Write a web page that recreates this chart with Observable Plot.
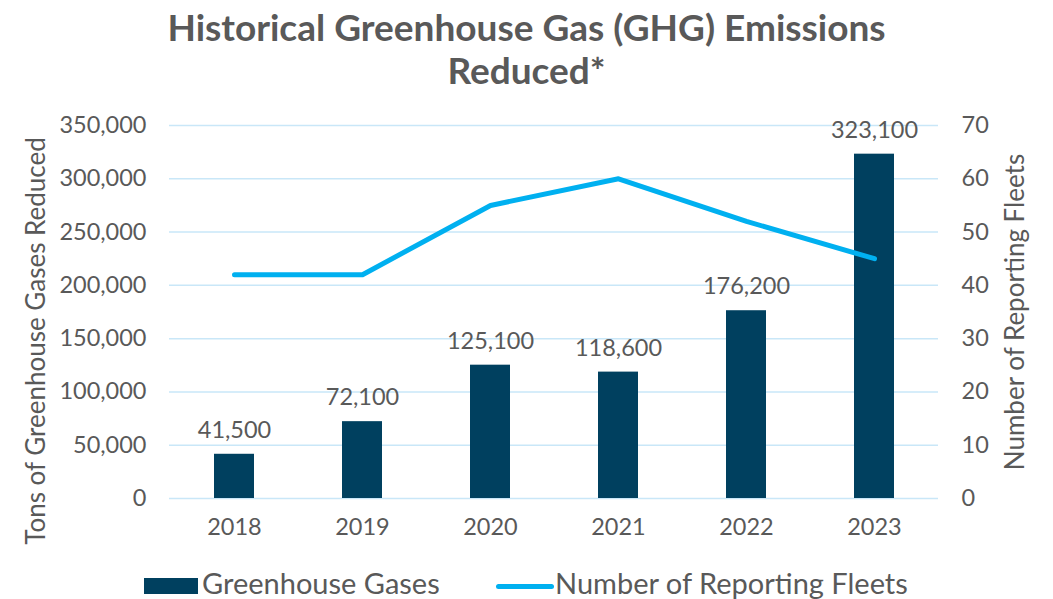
<!DOCTYPE html>
<html>
<head>
<meta charset="utf-8">
<script src="https://cdn.jsdelivr.net/npm/d3@7"></script>
<script src="https://cdn.jsdelivr.net/npm/@observablehq/plot@0.6"></script>
<style>
  html, body { margin: 0; padding: 0; background: #fff; }
  body { position: relative; width: 1053px; height: 599px; overflow: hidden; font-family: Lato, "Noto Sans", sans-serif; color: #595959; }
  #title { height: 110px; text-align: center; font-weight: bold; font-size: 37px; line-height: 43px; padding-top: 5px; box-sizing: border-box; color: #595959; }
  #chart { height: 440px; }
  .abs { position: absolute; white-space: nowrap; color: #595959; }
  .lg { font-size: 29px; line-height: 34px; top: 566px; }
  .rot { font-size: 26px; line-height: 30px; transform: translate(-50%, -50%) rotate(-90deg); }
</style>
</head>
<body>
<div id="title">Historical Greenhouse Gas (GHG) Emissions<br>Reduced*</div>
<div id="chart"></div>
<div class="abs rot" style="left:35px; top:341px;">Tons of Greenhouse Gases Reduced</div>
<div class="abs rot" style="left:1014px; top:312px;">Number of Reporting Fleets</div>
<div class="abs" style="left:144px; top:578px; width:54px; height:16px; background:#00405f;"></div>
<div class="abs lg" style="left:202px;">Greenhouse Gases</div>
<div class="abs" style="left:496px; top:584px; width:58px; height:5px; border-radius:3px; background:#00b0f0;"></div>
<div class="abs lg" style="left:555px;">Number of Reporting Fleets</div>
<script>
const years = ["2018", "2019", "2020", "2021", "2022", "2023"];
const ghgTons = [41500, 72100, 125100, 118600, 176200, 323100];
const fleets = [42, 42, 55, 60, 52, 45];
const leftTicks = [0, 50000, 100000, 150000, 200000, 250000, 300000, 350000];
const rightTicks = [0, 10, 20, 30, 40, 50, 60, 70];

const ratio = 350000 / 70;
const data = years.map((y, i) => ({ year: y, ghg: ghgTons[i], fleets: fleets[i], fleetsScaled: fleets[i] * ratio }));
const textColor = "#595959";
const font = "Lato, 'Noto Sans', sans-serif";

const chart = Plot.plot({
  width: 1053,
  height: 440,
  marginTop: 15,
  marginBottom: 52,
  marginLeft: 169,
  marginRight: 115,
  style: { fontFamily: font, fontSize: "23.5px", color: textColor, background: "transparent" },
  x: { domain: years, paddingInner: 0.69, paddingOuter: 0.345, label: null },
  y: { domain: [0, 350000], label: null },
  marks: [
    Plot.gridY(leftTicks, { stroke: "#c9e7f8", strokeOpacity: 1, strokeWidth: 1.5 }),
    Plot.barY(data, { x: "year", y: "ghg", fill: "#00405f" }),
    Plot.lineY(data, { x: "year", y: "fleetsScaled", stroke: "#00b0f0", strokeWidth: 5, strokeLinecap: "round", strokeLinejoin: "round" }),
    Plot.text(data, { x: "year", y: "ghg", text: d => d3.format(",")(d.ghg), dy: -24, fontSize: 23.5, fill: textColor }),
    Plot.axisX({ tickSize: 0, tickPadding: 20, fontSize: 23.5, color: textColor, label: null }),
    Plot.axisY(leftTicks, { anchor: "left", tickSize: 0, tickPadding: 23, tickFormat: d3.format(","), fontSize: 23.5, color: textColor, label: null }),
    Plot.axisY(rightTicks.map(v => v * ratio), { anchor: "right", tickSize: 0, tickPadding: 23, tickFormat: d => String(d / ratio), fontSize: 23.5, color: textColor, label: null })
  ]
});
document.getElementById("chart").appendChild(chart);
</script>
</body>
</html>
